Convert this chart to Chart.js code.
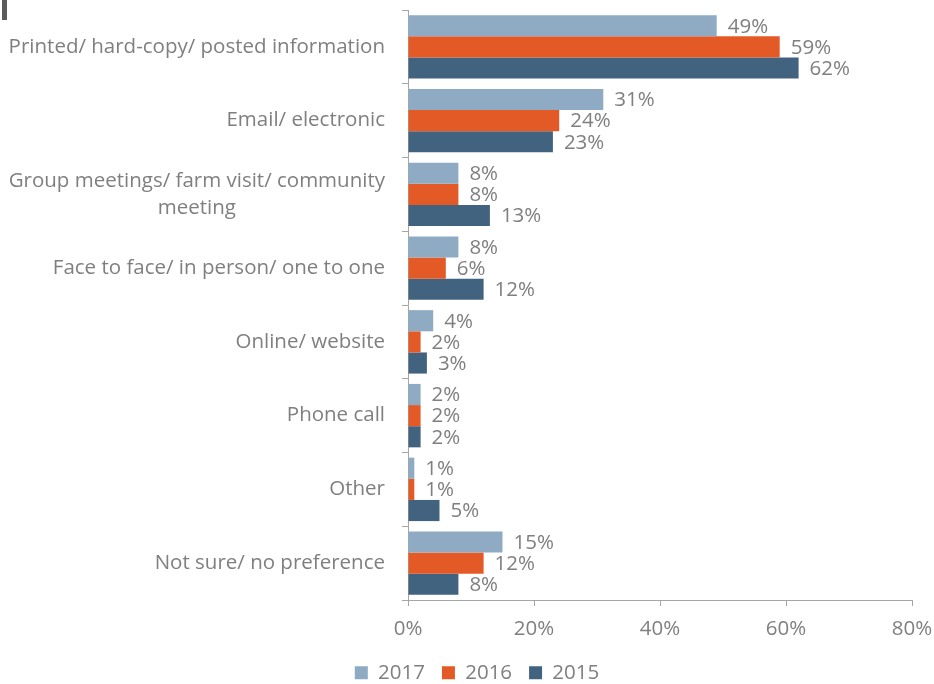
<!DOCTYPE html>
<html>
<head>
<meta charset="utf-8">
<script src="https://cdn.jsdelivr.net/npm/chart.js@4.4.1/dist/chart.umd.min.js"></script>
<style>
  html, body { margin: 0; padding: 0; background: #ffffff; }
  #wrap { position: relative; width: 934px; height: 684px; }
  #corner { position: absolute; left: 2px; top: 0; width: 5px; height: 20px; background: #5b5b5b; }
</style>
</head>
<body>
<div id="wrap">
  <canvas id="chart" width="934" height="684"></canvas>
  <div id="corner"></div>
</div>
<script>
// Preferred ways of receiving information, by survey year (% of respondents)
const categories = [
  'Printed/ hard-copy/ posted information',
  'Email/ electronic',
  ['Group meetings/ farm visit/ community', 'meeting'],
  'Face to face/ in person/ one to one',
  'Online/ website',
  'Phone call',
  'Other',
  'Not sure/ no preference'
];
const seriesNames = ['2017', '2016', '2015'];
const values2017 = [49, 31, 8, 8, 4, 2, 1, 15];
const values2016 = [59, 24, 8, 6, 2, 2, 1, 12];
const values2015 = [62, 23, 13, 12, 3, 2, 5, 8];
const xTickValues = [0, 20, 40, 60, 80];

const FONT = '"Open Sans", Lato, sans-serif';
const FONT_SIZE = 20.5;
const TEXT = '#7f7f7f';
const AXIS = '#a6a6a6';
const colors = ['#8eabc3', '#e45a27', '#42637f'];

const series = [values2017, values2016, values2015];

// Category labels on the left, right-aligned; wrapped labels are centred on their widest line
const categoryLabels = {
  id: 'categoryLabels',
  afterDraw(chart) {
    const { ctx } = chart;
    const y = chart.scales.y;
    const right = y.right - 23;
    const lineH = 27;
    ctx.save();
    ctx.font = FONT_SIZE + 'px ' + FONT;
    ctx.fillStyle = TEXT;
    ctx.textBaseline = 'middle';
    categories.forEach((label, i) => {
      const lines = Array.isArray(label) ? label : [label];
      const cy = y.getPixelForValue(i);
      const widest = Math.max(...lines.map(l => ctx.measureText(l).width));
      const cx = right - widest / 2;
      ctx.textAlign = 'center';
      lines.forEach((l, k) => {
        ctx.fillText(l, cx, cy + (k - (lines.length - 1) / 2) * lineH);
      });
    });
    ctx.restore();
  }
};

// Percentage value written just past the end of each bar
const valueLabels = {
  id: 'valueLabels',
  afterDatasetsDraw(chart) {
    const { ctx } = chart;
    ctx.save();
    ctx.font = FONT_SIZE + 'px ' + FONT;
    ctx.fillStyle = TEXT;
    ctx.textAlign = 'left';
    ctx.textBaseline = 'middle';
    chart.data.datasets.forEach((ds, di) => {
      const meta = chart.getDatasetMeta(di);
      meta.data.forEach((bar, i) => {
        ctx.fillText(ds.data[i] + '%', bar.x + 11, bar.y + 1);
      });
    });
    ctx.restore();
  }
};

new Chart(document.getElementById('chart'), {
  type: 'bar',
  data: {
    labels: categories,
    datasets: seriesNames.map((name, i) => ({
      label: name,
      data: series[i],
      backgroundColor: colors[i],
      borderWidth: 0,
      categoryPercentage: 0.86,
      barPercentage: 1.0
    }))
  },
  options: {
    indexAxis: 'y',
    responsive: false,
    animation: false,
    devicePixelRatio: 1,
    layout: { padding: { top: 10, right: 22, left: 42, bottom: -9 } },
    plugins: {
      tooltip: { enabled: false },
      legend: {
        position: 'bottom',
        labels: {
          color: TEXT,
          font: { family: FONT, size: FONT_SIZE },
          boxWidth: 13,
          boxHeight: 13,
          padding: 17
        }
      }
    },
    scales: {
      x: {
        min: 0,
        max: 80,
        afterBuildTicks(scale) { scale.ticks = xTickValues.map(v => ({ value: v })); },
        ticks: {
          color: TEXT,
          font: { family: FONT, size: FONT_SIZE },
          padding: 11,
          callback: v => v + '%'
        },
        grid: { drawOnChartArea: false, drawTicks: true, tickLength: 6, color: AXIS },
        border: { color: AXIS, width: 1 },
        afterFit(scale) {
          scale.height = 45.5;
          scale.paddingLeft = 0;
          scale.paddingRight = 0;
        }
      },
      y: {
        ticks: { display: false },
        grid: { offset: true, drawOnChartArea: false, drawTicks: true, tickLength: 6, color: AXIS },
        border: { color: AXIS, width: 1 },
        afterFit(scale) { scale.width = 366; }
      }
    }
  },
  plugins: [categoryLabels, valueLabels]
});
</script>
</body>
</html>
